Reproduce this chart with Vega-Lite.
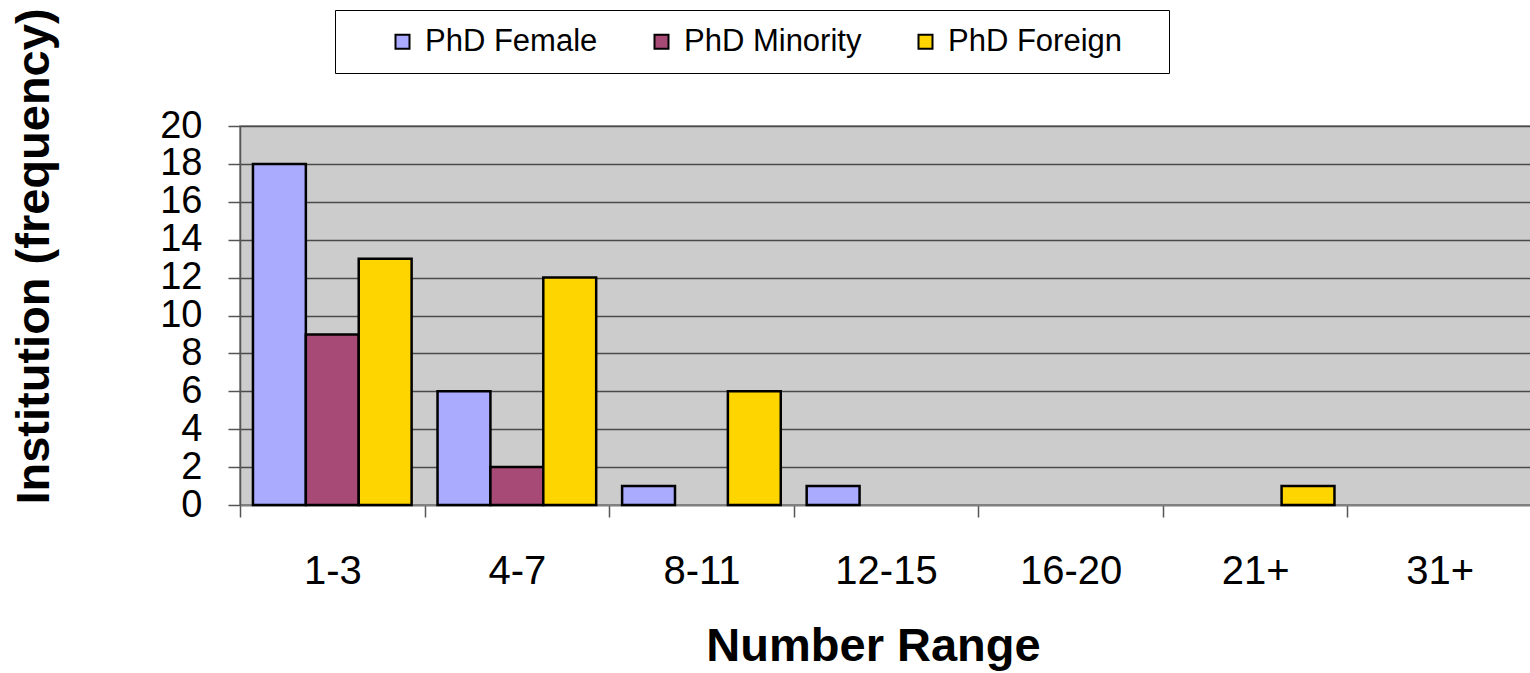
{
  "$schema": "https://vega.github.io/schema/vega-lite/v6.json",
  "autosize": "none",
  "width": 1292,
  "height": 379,
  "padding": {"left": 240, "top": 126, "right": 0, "bottom": 168},
  "background": "white",
  "config": {
    "font": "Liberation Sans",
    "view": {"fill": "#CCCCCC", "stroke": "#808080", "strokeWidth": 1.5}
  },
  "data": {
    "values": [
      {"range": "1-3", "series": "PhD Female", "count": 18},
      {"range": "1-3", "series": "PhD Minority", "count": 9},
      {"range": "1-3", "series": "PhD Foreign", "count": 13},
      {"range": "4-7", "series": "PhD Female", "count": 6},
      {"range": "4-7", "series": "PhD Minority", "count": 2},
      {"range": "4-7", "series": "PhD Foreign", "count": 12},
      {"range": "8-11", "series": "PhD Female", "count": 1},
      {"range": "8-11", "series": "PhD Foreign", "count": 6},
      {"range": "12-15", "series": "PhD Female", "count": 1},
      {"range": "21+", "series": "PhD Foreign", "count": 1}
    ]
  },
  "mark": {"type": "bar", "stroke": "black", "strokeWidth": 2.5},
  "encoding": {
    "x": {
      "field": "range",
      "type": "nominal",
      "scale": {"domain": ["1-3", "4-7", "8-11", "12-15", "16-20", "21+", "31+"], "paddingInner": 0, "paddingOuter": 0},
      "axis": {
        "title": "Number Range",
        "titleFont": "Liberation Sans",
        "titleFontSize": 47,
        "titleFontWeight": "bold",
        "titleColor": "black",
        "titleX": 633,
        "titleY": 155,
        "titleBaseline": "alphabetic",
        "labelAngle": 0,
        "labelFontSize": 40,
        "labelColor": "black",
        "labelBaseline": "top",
        "labelPadding": 34,
        "tickBand": "extent",
        "tickSize": 12,
        "tickColor": "#555555",
        "tickWidth": 1.5,
        "domainColor": "#808080",
        "domainWidth": 1.5,
        "grid": false
      }
    },
    "xOffset": {
      "field": "series",
      "type": "nominal",
      "scale": {"domain": ["PhD Female", "PhD Minority", "PhD Foreign"], "paddingInner": 0, "paddingOuter": 0.245}
    },
    "y": {
      "field": "count",
      "type": "quantitative",
      "scale": {"domain": [0, 20], "nice": false},
      "axis": {
        "title": "Institution (frequency)",
        "titleFont": "Liberation Sans",
        "titleFontSize": 47,
        "titleFontWeight": "bold",
        "titleColor": "black",
        "titleAngle": -90,
        "titleX": -206,
        "titleY": 130,
        "titleAlign": "center",
        "titleBaseline": "middle",
        "values": [0, 2, 4, 6, 8, 10, 12, 14, 16, 18, 20],
        "labelFontSize": 38,
        "labelColor": "black",
        "labelPadding": 26,
        "labelBaseline": "middle",
        "labelOverlap": false,
        "tickSize": 12,
        "tickColor": "#555555",
        "tickWidth": 1.5,
        "domainColor": "#555555",
        "domainWidth": 1.5,
        "grid": true,
        "gridColor": "#4a4a4a",
        "gridWidth": 1.5
      }
    },
    "color": {
      "field": "series",
      "type": "nominal",
      "scale": {"domain": ["PhD Female", "PhD Minority", "PhD Foreign"], "range": ["#AAAAFF", "#A84A76", "#FFD500"]},
      "legend": {
        "title": " ",
        "titleOrient": "right",
        "titlePadding": 31,
        "orient": "none",
        "direction": "horizontal",
        "legendX": 95,
        "legendY": -116,
        "padding": 16,
        "strokeColor": "black",
        "fillColor": "white",
        "symbolType": "square",
        "symbolSize": 196,
        "symbolStrokeColor": "black",
        "symbolStrokeWidth": 2,
        "symbolOpacity": 1,
        "symbolOffset": 36,
        "labelOffset": 7,
        "labelFontSize": 31,
        "labelColor": "black",
        "labelLimit": 400,
        "columnPadding": 12
      }
    }
  }
}
